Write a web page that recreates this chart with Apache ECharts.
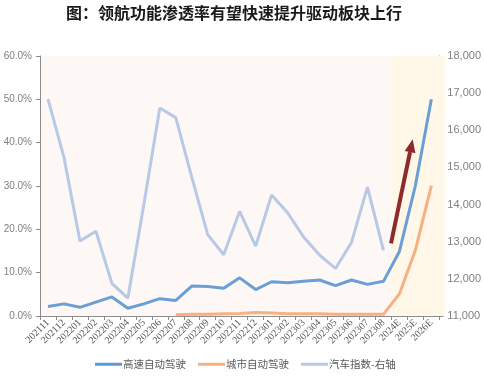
<!DOCTYPE html>
<html><head><meta charset="utf-8">
<script src="https://cdn.jsdelivr.net/npm/echarts@6/dist/echarts.min.js"></script>
<style>html,body{margin:0;padding:0;background:#fff}#c{width:484px;height:376px}</style>
</head><body><div id="c"></div>
<script>
const categories = ['202111','202112','202201','202202','202203','202204','202205','202206','202207','202208','202209','202210','202211','202212','202301','202302','202303','202304','202305','202306','202307','202308','2024E','2025E','2026E'];
const highway = [2.2, 2.8, 2.0, 3.2, 4.4, 1.8, 2.8, 4.0, 3.6, 6.9, 6.8, 6.4, 8.8, 6.1, 7.9, 7.7, 8.0, 8.3, 7.0, 8.3, 7.3, 8.0, 14.9, 30.1, 50.0];
const city = [null, null, null, null, null, null, null, null, 0.3, 0.4, 0.4, 0.5, 0.6, 0.8, 0.7, 0.5, 0.5, 0.5, 0.4, 0.4, 0.4, 0.4, 5.1, 15.2, 30.1];
const autoIndex = [16840, 15270, 13020, 13280, 11880, 11480, 14000, 16600, 16340, 14740, 13190, 12650, 13820, 12880, 14260, 13780, 13130, 12640, 12280, 12980, 14470, 12770, null, null, null];
const leftTicks = {min: 0, max: 60, interval: 10};
const rightTicks = {min: 11000, max: 18000, interval: 1000};
const seriesNames = ['高速自动驾驶', '城市自动驾驶', '汽车指数-右轴'];
const title = '图：领航功能渗透率有望快速提升驱动板块上行';

const chart = echarts.init(document.getElementById('c'));
const axisGrey = '#8c8c8c';
const labelGrey = '#595959';
// arrow geometry (decoration)
const tip = [412.7, 139.3], tail = [391, 243.3];
const dx = tip[0]-tail[0], dy = tip[1]-tail[1], L = Math.hypot(dx, dy);
const ux = dx/L, uy = dy/L, nx = -uy, ny = ux;
const hl = 13, hw = 5.5;
const bx = tip[0]-hl*ux, by = tip[1]-hl*uy;

chart.setOption({
  animation: false,
  title: {text: title, left: 66, top: 5, padding: 0, textStyle: {fontFamily: 'Noto Sans CJK SC', fontSize: 16, fontWeight: 'bold', color: '#1a1a1a'}},
  grid: {left: 40, right: 39, top: 56, bottom: 60, show: true, backgroundColor: '#fdf8f5', borderWidth: 0},
  legend: {
    data: seriesNames, left: 95, top: 359, padding: 0, icon: 'rect', itemWidth: 27, itemHeight: 3, itemGap: 12,
    textStyle: {fontFamily: 'Noto Sans CJK SC', fontSize: 10.5, color: labelGrey, padding: [0,0,0,-4]}
  },
  xAxis: {
    type: 'category', data: categories, boundaryGap: true,
    axisLine: {lineStyle: {color: axisGrey}},
    axisTick: {show: true, alignWithLabel: false, length: 4, lineStyle: {color: axisGrey}},
    axisLabel: {rotate: 45, interval: 0, fontFamily: 'Liberation Serif', fontSize: 10, color: labelGrey, margin: 5}
  },
  yAxis: [
    {type: 'value', min: leftTicks.min, max: leftTicks.max, interval: leftTicks.interval,
     axisLine: {show: true, lineStyle: {color: axisGrey}}, axisTick: {show: true, length: 4, lineStyle: {color: axisGrey}},
     splitLine: {show: false},
     axisLabel: {formatter: v => v.toFixed(1) + '%', fontFamily: 'Liberation Sans', fontSize: 10, color: '#808080', margin: 8}},
    {type: 'value', min: rightTicks.min, max: rightTicks.max, interval: rightTicks.interval, position: 'right',
     axisLine: {show: true, lineStyle: {color: axisGrey}}, axisTick: {show: true, length: 4, lineStyle: {color: axisGrey}},
     splitLine: {show: false},
     axisLabel: {fontFamily: 'Liberation Sans', fontSize: 11, color: '#808080', margin: 8}}
  ],
  series: [
    {name: seriesNames[2], type: 'line', yAxisIndex: 1, data: autoIndex, symbol: 'none', z: 2,
     lineStyle: {color: '#b8c9e6', width: 3}, itemStyle: {color: '#b8c9e6'},
     markArea: {silent: true, itemStyle: {color: '#fff7e8'}, data: [[{x: 391, y: 56}, {x: 445, y: 316}]]}},
    {name: seriesNames[1], type: 'line', data: city, symbol: 'none', z: 3,
     lineStyle: {color: '#f5b183', width: 3}, itemStyle: {color: '#f5b183'}},
    {name: seriesNames[0], type: 'line', data: highway, symbol: 'none', z: 4,
     lineStyle: {color: '#6a9fd6', width: 3}, itemStyle: {color: '#5b9bd5'}}
  ],
  graphic: [
    {type: 'line', shape: {x1: tail[0], y1: tail[1], x2: bx, y2: by}, style: {stroke: '#8e2a2a', lineWidth: 4}, z: 10},
    {type: 'polygon', shape: {points: [[tip[0], tip[1]], [bx+hw*nx, by+hw*ny], [bx-hw*nx, by-hw*ny]]}, style: {fill: '#8e2a2a'}, z: 10}
  ]
});
</script></body></html>
